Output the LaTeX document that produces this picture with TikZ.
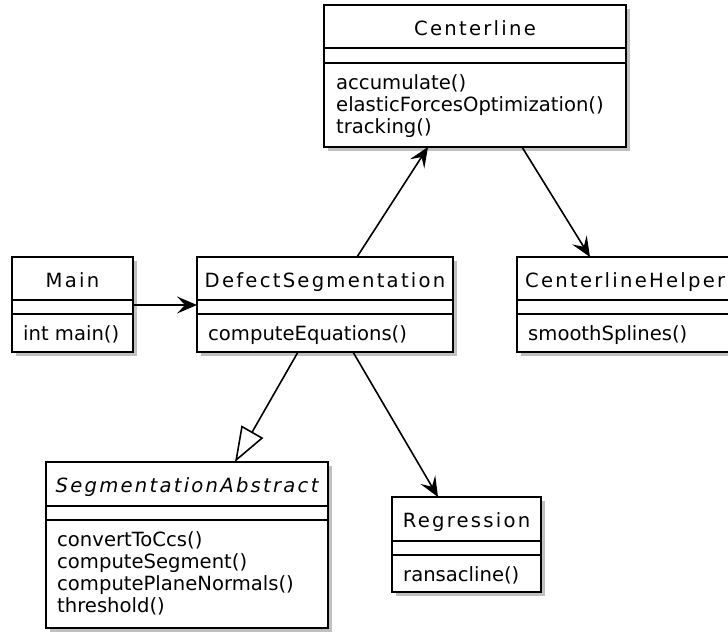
\documentclass[tikz,border=0pt]{standalone}
\usepackage{fontspec}
\setmainfont{DejaVu Sans}
\usetikzlibrary{shadows,arrows.meta,calc}
\tikzset{
  cls/.style={draw=black, fill=white, line width=2.5pt, inner sep=0pt, outer sep=0pt, anchor=north west,
    drop shadow={shadow xshift=4pt, shadow yshift=-4pt, fill=black!45, opacity=0.55}},
  sepline/.style={line width=2.2pt, black},
  ttl/.style={anchor=base, inner sep=0pt, font=\fontsize{19.6pt}{23pt}\selectfont\addfontfeatures{LetterSpace=11.5}},
  meth/.style={anchor=base west, inner sep=0pt, font=\fontsize{19.6pt}{22pt}\selectfont},
  assoc/.style={line width=1.6pt, -{Stealth[length=20pt, width=17pt, inset=8pt]}},
  inherit/.style={line width=1.6pt, -{Triangle[open, length=35pt, width=25pt, line width=1.6pt]}},
}
\begin{document}
\begin{tikzpicture}[x=1pt, y=-1pt]
\useasboundingbox (0,0) rectangle (728,633);
% Centerline
\node[cls, minimum width=302pt, minimum height=142pt] (C) at (324,5) {};
\draw[sepline] ([yshift=-43pt]C.north west) -- ([yshift=-43pt]C.north east);
\draw[sepline] ([yshift=-58pt]C.north west) -- ([yshift=-58pt]C.north east);
\node[ttl] (Ct) at ([yshift=-30pt]C.north) {Centerline};
\node[meth] (Cm1) at ([xshift=12pt, yshift=-84pt]C.north west) {accumulate()};
\node[meth] (Cm2) at ([xshift=12pt, yshift=-106pt]C.north west) {elasticForcesOptimization()};
\node[meth] (Cm3) at ([xshift=12pt, yshift=-128pt]C.north west) {tracking()};
% Main
\node[cls, minimum width=121pt, minimum height=95pt] (M) at (12,257) {};
\draw[sepline] ([yshift=-43pt]M.north west) -- ([yshift=-43pt]M.north east);
\draw[sepline] ([yshift=-57pt]M.north west) -- ([yshift=-57pt]M.north east);
\node[ttl] (Mt) at ([yshift=-30pt]M.north) {Main};
\node[meth] (Mm1) at ([xshift=11pt, yshift=-83pt]M.north west) {int main()};
% DefectSegmentation
\node[cls, minimum width=256pt, minimum height=95pt] (D) at (197,257) {};
\draw[sepline] ([yshift=-43pt]D.north west) -- ([yshift=-43pt]D.north east);
\draw[sepline] ([yshift=-57pt]D.north west) -- ([yshift=-57pt]D.north east);
\node[ttl] (Dt) at ([yshift=-30pt]D.north) {DefectSegmentation};
\node[meth] (Dm1) at ([xshift=11pt, yshift=-83pt]D.north west) {computeEquations()};
% CenterlineHelper
\node[cls, minimum width=214pt, minimum height=95pt] (H) at (517,257) {};
\draw[sepline] ([yshift=-43pt]H.north west) -- ([yshift=-43pt]H.north east);
\draw[sepline] ([yshift=-57pt]H.north west) -- ([yshift=-57pt]H.north east);
\node[ttl, anchor=base west] (Ht) at ([xshift=8pt, yshift=-30pt]H.north west) {CenterlineHelper};
\node[meth] (Hm1) at ([xshift=11pt, yshift=-83pt]H.north west) {smoothSplines()};
% SegmentationAbstract
\node[cls, minimum width=282pt, minimum height=166pt] (SA) at (46,462) {};
\draw[sepline] ([yshift=-44pt]SA.north west) -- ([yshift=-44pt]SA.north east);
\draw[sepline] ([yshift=-58pt]SA.north west) -- ([yshift=-58pt]SA.north east);
\node[ttl] (SAt) at ([yshift=-30pt]SA.north) {\itshape SegmentationAbstract};
\node[meth] (SAm1) at ([xshift=11pt, yshift=-84pt]SA.north west) {convertToCcs()};
\node[meth] (SAm2) at ([xshift=11pt, yshift=-106pt]SA.north west) {computeSegment()};
\node[meth] (SAm3) at ([xshift=11pt, yshift=-128pt]SA.north west) {computePlaneNormals()};
\node[meth] (SAm4) at ([xshift=11pt, yshift=-150pt]SA.north west) {threshold()};
% Regression
\node[cls, minimum width=149pt, minimum height=95pt] (R) at (392,497) {};
\draw[sepline] ([yshift=-44pt]R.north west) -- ([yshift=-44pt]R.north east);
\draw[sepline] ([yshift=-58pt]R.north west) -- ([yshift=-58pt]R.north east);
\node[ttl] (Rt) at ([yshift=-30pt]R.north) {Regression};
\node[meth] (Rm1) at ([xshift=11pt, yshift=-84pt]R.north west) {ransacline()};
% connectors
\draw[assoc] (M.east |- 0,305) -- (D.west |- 0,305);
\draw[assoc] (D.north -| 357,0) -- (C.south -| 428,0);
\draw[assoc] (C.south -| 522,0) -- (H.north -| 590,0);
\draw[inherit] (D.south -| 298,0) -- (SA.north -| 235,0);
\draw[assoc] (D.south -| 353,0) -- (R.north -| 438,0);
\end{tikzpicture}
\end{document}
